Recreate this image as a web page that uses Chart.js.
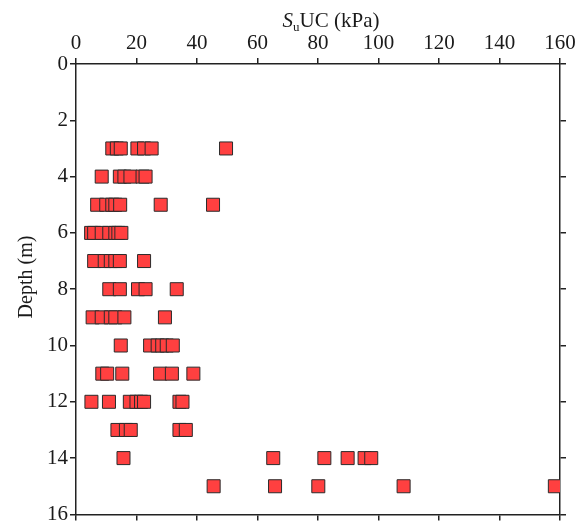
<!DOCTYPE html>
<html>
<head>
<meta charset="utf-8">
<script src="https://cdn.jsdelivr.net/npm/chart.js@4/dist/chart.umd.min.js"></script>
<style>
  html, body { margin: 0; padding: 0; background: #fff; }
  #wrap { width: 588px; height: 529px; }
</style>
</head>
<body>
<div id="wrap"><canvas id="suChart" width="588" height="529"></canvas></div>
<script>
    // depth levels (m) and the SuUC values measured at each one (kPa)
    const depths = [3, 4, 5, 6, 7, 8, 9, 10, 11, 12, 13, 14, 15];
    const suAt3 = [12, 13.5, 14.8, 20.3, 22.5, 25, 49.6];
    const suAt4 = [8.5, 14.5, 16, 18, 22, 23];
    const suAt5 = [7, 10, 12, 13, 14.6, 28, 45.3];
    const suAt6 = [5, 6, 8.5, 11, 13, 14, 15];
    const suAt7 = [6, 9.5, 11.5, 13, 14.5, 22.5];
    const suAt8 = [11, 14.5, 20.5, 23, 33.3];
    const suAt9 = [5.5, 8.5, 11.5, 13, 16, 29.4];
    const suAt10 = [14.8, 24.5, 27, 28.5, 30, 32];
    const suAt11 = [8.7, 10.3, 15.3, 27.8, 31.7, 38.8];
    const suAt12 = [5.1, 10.9, 17.8, 20, 21.5, 22.5, 34.2, 35.2];
    const suAt13 = [13.7, 16.5, 18.1, 34.2, 36.3];
    const suAt14 = [15.7, 65.2, 82.1, 89.8, 95.4, 97.6];
    const suAt15 = [45.5, 65.8, 80.1, 108.3, 158.3];
    const suLists = [suAt3, suAt4, suAt5, suAt6, suAt7, suAt8, suAt9,
                     suAt10, suAt11, suAt12, suAt13, suAt14, suAt15];

    const xTicks = [0, 20, 40, 60, 80, 100, 120, 140, 160];
    const yTicks = [0, 2, 4, 6, 8, 10, 12, 14, 16];

    const points = [];
    depths.forEach((d, i) => {
        suLists[i].forEach(v => points.push({ x: v, y: d }));
    });

    const serif = "'Liberation Serif', 'Times New Roman', serif";
    const ink = '#1a1a1a';

    // outward tick marks, no grid inside the box
    function axisStyle(pos, showLabels, ticks, fit) {
        return {
            type: 'linear',
            position: pos,
            min: ticks[0],
            max: ticks[ticks.length - 1],
            afterBuildTicks: s => { s.ticks = ticks.map(v => ({ value: v })); },
            afterFit: fit,
            ticks: {
                display: showLabels,
                color: ink,
                padding: 2,
                font: { family: serif, size: 21 }
            },
            grid: {
                drawOnChartArea: false,
                drawTicks: true,
                tickLength: 6,
                color: '#222',
                lineWidth: 1.5
            },
            border: { color: '#222', width: 1.5 }
        };
    }

    // title with italic S and subscript u, plus the rotated depth label
    const labelsPlugin = {
        id: 'labels',
        afterDraw(chart) {
            const c = chart.ctx;
            c.save();
            c.fillStyle = ink;
            c.textBaseline = 'alphabetic';
            const parts = [
                { t: 'S', f: 'italic 21px ' + serif, dy: 0 },
                { t: 'u', f: '13px ' + serif, dy: 4 },
                { t: 'UC (kPa)', f: '21px ' + serif, dy: 0 }
            ];
            let w = 0;
            parts.forEach(p => { c.font = p.f; p.w = c.measureText(p.t).width; w += p.w; });
            let x = 331 - w / 2;
            parts.forEach(p => {
                c.font = p.f;
                c.fillText(p.t, x, 27 + p.dy);
                x += p.w;
            });
            c.translate(32, 277);
            c.rotate(-Math.PI / 2);
            c.font = '20px ' + serif;
            c.textAlign = 'center';
            c.fillText('Depth (m)', 0, 0);
            c.restore();
        }
    };

    const ctx = document.getElementById('suChart').getContext('2d');
    const suChart = new Chart(ctx, {
        type: 'scatter',
        data: {
            datasets: [{
                label: 'SuUC',
                data: points,
                pointStyle: 'rect',
                pointRadius: 9.2,
                pointHoverRadius: 9.2,
                backgroundColor: '#ff4040',
                borderColor: '#2b2b2b',
                borderWidth: 1
            }]
        },
        options: {
            responsive: false,
            animation: false,
            layout: { padding: 0 },
            plugins: {
                legend: { display: false },
                title: { display: false },
                tooltip: { enabled: false }
            },
            scales: {
                x: axisStyle('top', true, xTicks, s => { s.height = 64; }),
                x2: axisStyle('bottom', false, xTicks, s => { s.height = 12; }),
                y: Object.assign(axisStyle('left', true, yTicks, s => { s.width = 76; }), { reverse: true }),
                y2: Object.assign(axisStyle('right', false, yTicks, s => { s.width = 28; }), { reverse: true })
            }
        },
        plugins: [labelsPlugin]
    });
</script>
</body>
</html>
